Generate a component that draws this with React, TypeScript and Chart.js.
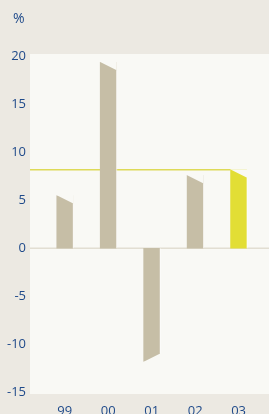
import React, { useEffect, useRef } from "react";
import { Chart, registerables } from "chart.js";

Chart.register(...registerables);

const categories = ["99", "00", "01", "02", "03"];
const values = [5.5, 19.4, -11.8, 7.6, 8.2];
const highlightIndex = 4;
const yTicks = [-15, -10, -5, 0, 5, 10, 15, 20];
const unitLabel = "%";

const PAGE_BG = "#ECE9E2";
const PLOT_BG = "#F9F9F5";
const BAR = "#C6BEA6";
const BAR_HI = "#E2DE35";
const LINE = "#DEDA58";
const TEXT = "#1F4A8A";
const FONT = "'Open Sans', sans-serif";

const slantPlugin = {
  id: "slant",
  beforeDraw(chart: any) {
    const { ctx, chartArea } = chart;
    ctx.save();
    ctx.fillStyle = PAGE_BG;
    ctx.fillRect(0, 0, chart.width, chart.height);
    ctx.fillStyle = PLOT_BG;
    ctx.fillRect(chartArea.left, chartArea.top, chartArea.right - chartArea.left, chartArea.bottom - chartArea.top);
    ctx.fillStyle = TEXT;
    ctx.font = "14px " + FONT;
    ctx.textAlign = "left";
    ctx.textBaseline = "middle";
    ctx.fillText(unitLabel, 13, 19);
    ctx.restore();
  },
  beforeDatasetsDraw(chart: any) {
    const { ctx, chartArea, scales } = chart;
    const meta = chart.getDatasetMeta(0);
    const bar = meta.data[highlightIndex] as any;
    const y = scales.y.getPixelForValue(values[highlightIndex]);
    const zero = scales.y.getPixelForValue(0);
    ctx.save();
    ctx.strokeStyle = "#E2DED2";
    ctx.lineWidth = 1.5;
    ctx.beginPath();
    ctx.moveTo(chartArea.left, zero);
    ctx.lineTo(chartArea.right, zero);
    ctx.stroke();
    ctx.strokeStyle = LINE;
    ctx.lineWidth = 1.5;
    ctx.beginPath();
    ctx.moveTo(chartArea.left, y);
    ctx.lineTo(bar.x - bar.width / 2, y);
    ctx.stroke();
    ctx.restore();
  },
  afterDatasetsDraw(chart: any) {
    const { ctx } = chart;
    const meta = chart.getDatasetMeta(0);
    ctx.save();
    ctx.fillStyle = PLOT_BG;
    meta.data.forEach((el: any, i: number) => {
      const l = el.x - el.width / 2;
      const r = el.x + el.width / 2;
      const drop = 8;
      ctx.beginPath();
      if (values[i] >= 0) {
        ctx.moveTo(l - 0.5, el.y - 0.5);
        ctx.lineTo(r + 0.5, el.y - 0.5);
        ctx.lineTo(r + 0.5, el.y + drop);
      } else {
        ctx.moveTo(l - 0.5, el.y + 0.5);
        ctx.lineTo(r + 0.5, el.y + 0.5);
        ctx.lineTo(r + 0.5, el.y - drop);
      }
      ctx.closePath();
      ctx.fill();
      ctx.strokeStyle = "rgba(255,255,255,0.6)";
      ctx.lineWidth = 1;
      ctx.beginPath();
      ctx.moveTo(r + 0.5, el.y + (values[i] >= 0 ? drop : -drop));
      ctx.lineTo(r + 0.5, el.base);
      ctx.stroke();
    });
    ctx.restore();
  },
};

export default function App() {
  const ref = useRef<HTMLCanvasElement>(null);
  useEffect(() => {
    document.body.style.margin = "0";
    const chart = new Chart(ref.current as HTMLCanvasElement, {
      type: "bar",
      data: {
        datasets: [
          {
            data: values.map((v, i) => ({ x: i, y: v })),
            backgroundColor: values.map((_, i) => (i === highlightIndex ? BAR_HI : BAR)),
            borderWidth: 0,
            barThickness: 16,
          },
        ],
      },
      options: {
        animation: false,
        responsive: false,
        maintainAspectRatio: false,
        layout: { padding: { top: 54, left: 0, right: 0, bottom: 0 } },
        plugins: { legend: { display: false }, tooltip: { enabled: false } },
        scales: {
          x: {
            type: "linear",
            min: -0.8,
            max: 4.7,
            offset: false,
            grid: { display: false, drawTicks: false },
            border: { display: false },
            afterBuildTicks: (s: any) => {
              s.ticks = categories.map((_, i) => ({ value: i }));
            },
            afterFit: (s: any) => {
              s.height = 20;
            },
            ticks: {
              padding: 9,
              color: TEXT,
              font: { family: FONT, size: 13 },
              maxRotation: 0,
              autoSkip: false,
              callback: (v: any) => categories[v] ?? "",
            },
          },
          y: {
            min: -15.2,
            max: 20.26,
            grid: { display: false, drawTicks: false },
            border: { display: false },
            afterBuildTicks: (s: any) => {
              s.ticks = yTicks.map((v) => ({ value: v }));
            },
            afterFit: (s: any) => {
              s.width = 30;
            },
            ticks: {
              padding: 4,
              color: TEXT,
              font: { family: FONT, size: 13 },
            },
          },
        },
      },
      plugins: [slantPlugin],
    });
    return () => chart.destroy();
  }, []);
  return <canvas ref={ref} width={269} height={414} style={{ display: "block" }} />;
}
